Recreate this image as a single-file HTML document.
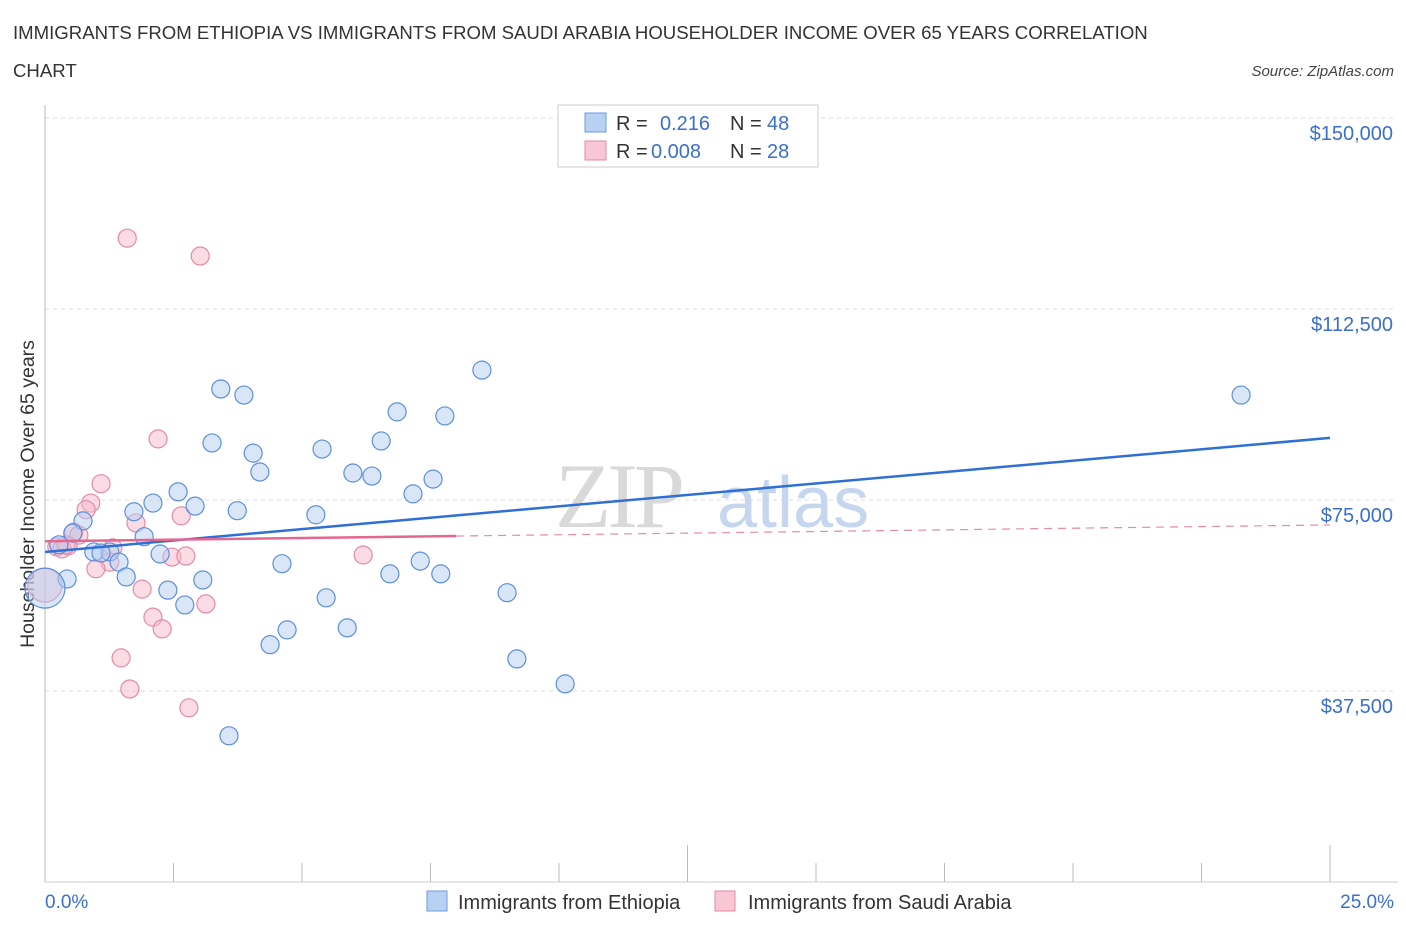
<!DOCTYPE html>
<html><head><meta charset="utf-8"><style>
html,body{margin:0;padding:0;background:#fff;width:1406px;height:930px;overflow:hidden;font-family:"Liberation Sans",sans-serif;}
</style></head><body>
<svg id="chart" width="1406" height="930" xmlns="http://www.w3.org/2000/svg" font-family="Liberation Sans, sans-serif">
<text x="13" y="39" font-size="18.6" fill="#333">IMMIGRANTS FROM ETHIOPIA VS IMMIGRANTS FROM SAUDI ARABIA HOUSEHOLDER INCOME OVER 65 YEARS CORRELATION</text>
<text x="13" y="77" font-size="18.6" fill="#333">CHART</text>
<text x="1394" y="76" font-size="15" fill="#444" font-style="italic" text-anchor="end">Source: ZipAtlas.com</text>
<g id="grid"></g>
<g>
<text x="555" y="527" font-size="92" fill="#d9d9d9" font-family="Liberation Serif, serif" letter-spacing="-4">ZIP</text>
<text x="717" y="527" font-size="72" fill="#c5d6ee">atlas</text>
</g>
<line x1="45" y1="105" x2="45" y2="882" stroke="#bbb" stroke-width="1"/>
<line x1="45" y1="882" x2="1398" y2="882" stroke="#ccc" stroke-width="1"/>
<g id="xticks"></g>
<text transform="translate(34,494) rotate(-90)" font-size="19.5" fill="#333" text-anchor="middle">Householder Income Over 65 years</text>
<text x="45" y="908" font-size="19" fill="#3a6fd0">0.0%</text>
<text x="1394" y="908" font-size="19" fill="#3a6fd0" text-anchor="end">25.0%</text>
<g id="points-pink"></g>
<g id="points-blue"></g>
<g id="trends"></g>
<g>
<rect x="558" y="105" width="260" height="62" fill="#fff" stroke="#ccc"/>
<rect x="585" y="113" width="21" height="19" fill="#b8d1f3" stroke="#6b9be0"/>
<rect x="585" y="141" width="21" height="19" fill="#f9c6d5" stroke="#e38aa6"/>
<text x="616" y="130" font-size="20" fill="#333">R =</text>
<text x="660" y="130" font-size="20" fill="#3a6fd0">0.216</text>
<text x="730" y="130" font-size="20" fill="#333">N =</text>
<text x="767" y="130" font-size="20" fill="#3a6fd0">48</text>
<text x="616" y="158" font-size="20" fill="#333">R =</text>
<text x="651" y="158" font-size="20" fill="#3a6fd0">0.008</text>
<text x="730" y="158" font-size="20" fill="#333">N =</text>
<text x="767" y="158" font-size="20" fill="#3a6fd0">28</text>
</g>
<g>
<rect x="427" y="891" width="20" height="20" fill="#b8d1f3" stroke="#6b9be0"/>
<text x="458" y="909" font-size="20" fill="#333">Immigrants from Ethiopia</text>
</g>
<g>
<rect x="715" y="891" width="20" height="20" fill="#f9c6d5" stroke="#e38aa6"/>
<text x="748" y="909" font-size="20" fill="#333">Immigrants from Saudi Arabia</text>
</g>
</svg>
<script>
const yTicks=[37500,75000,112500,150000];
const yTickLabels=["$37,500","$75,000","$112,500","$150,000"];
const blueX=[8.50,23.27,3.42,3.87,6.85,7.78,3.25,6.54,5.39,4.05,4.18,5.99,6.36,7.55,7.16,2.59,2.10,2.92,3.74,1.73,5.27,0.74,0.54,1.93,0.27,1.26,0.95,2.24,1.44,4.61,7.30,1.58,0.43,6.71,7.70,3.07,2.39,8.99,5.47,2.72,5.88,4.71,4.38,9.18,10.12,3.58,0,1.09];
const blueY=[100500,95600,96800,95600,92300,91500,86200,86600,85000,84200,80500,80300,79700,79100,76200,76600,74400,73800,72900,72700,72100,70900,68500,67800,66200,64800,64800,64400,62800,62500,63000,59900,59500,60500,60500,59300,57300,56800,55800,54400,49900,49500,46600,43800,38900,28700,57700,64600];
const blueBig=[46];
const pinkX=[1.60,3.02,2.20,1.09,0.89,0.80,1.77,2.65,0.56,0.66,0.23,0.45,0.33,1.32,1.26,2.47,2.74,6.19,0.99,1.89,2.10,3.13,2.28,1.48,1.65,2.80,0,0.41];
const pinkY=[126400,122900,87000,78200,74400,73100,70500,71900,68700,68100,65800,66000,65400,65600,62800,63800,64000,64200,61500,57500,52000,54600,49700,44000,37900,34200,58300,66200];
const pinkBig=[26];
const blueTrend=[64800,87200];
const pinkTrend=[66900,70100];
const pinkSolidEnd=8.0;
const X=p=>45+p/25*1285;
const Y=v=>882-v/37500*191;
const NS="http://www.w3.org/2000/svg";
function mk(t,a,parent){const e=document.createElementNS(NS,t);for(const k in a)e.setAttribute(k,a[k]);parent.appendChild(e);return e;}
const grid=document.getElementById('grid');
yTicks.forEach((v,i)=>{
 const l=mk('line',{x1:45,x2:1395,y1:Y(v),y2:Y(v),stroke:'#ddd','stroke-dasharray':'4,4'},grid);
 
 
 const t=mk('text',{x:1393,y:Y(v)+22,'font-size':20,fill:'#3a6fd0','text-anchor':'end'},grid);
 t.textContent=yTickLabels[i];
 
 
});
const xt=document.getElementById('xticks');
for(let i=1;i<=10;i++){
 const x=45+i*128.5;
 const l=mk('line',{x1:x,x2:x,y1:(i===5||i===10)?845:863,y2:882,stroke:'#bbb'},xt);
 
 
}
function pts(xs,ys,big,g,fill,stroke,bigR){
 xs.forEach((p,i)=>{
  const r=big.includes(i)?bigR:9;
  const c=mk('circle',{cx:X(p),cy:Y(ys[i]),r:r,fill:fill,'fill-opacity':0.5,stroke:stroke,'stroke-width':1.2},g);
  
  
 });
}
pts(pinkX,pinkY,pinkBig,document.getElementById('points-pink'),'#f7b9cc','#e58aa7',17);
pts(blueX,blueY,blueBig,document.getElementById('points-blue'),'#b3cdf1','#5d8fdc',20);
const tr=document.getElementById('trends');
const bl=mk('line',{x1:X(0),y1:Y(blueTrend[0]),x2:X(25),y2:Y(blueTrend[1]),stroke:'#2f6fd6','stroke-width':2.5},tr);


const pe=pinkTrend[0]+(pinkTrend[1]-pinkTrend[0])*pinkSolidEnd/25;
const ps=mk('line',{x1:X(0),y1:Y(pinkTrend[0]),x2:X(pinkSolidEnd),y2:Y(pe),stroke:'#e5668f','stroke-width':2.5},tr);


const pd=mk('line',{x1:X(pinkSolidEnd),y1:Y(pe),x2:X(25),y2:Y(pinkTrend[1]),stroke:'#e58aa7','stroke-width':1.2,'stroke-dasharray':'8,6'},tr);


</script>
</body></html>
